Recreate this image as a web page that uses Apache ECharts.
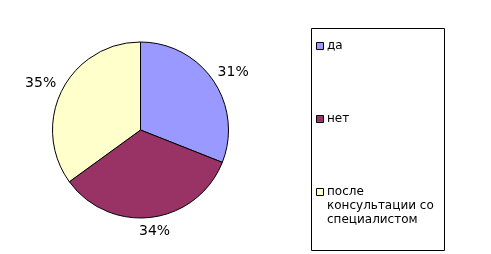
<!DOCTYPE html>
<html><head><meta charset="utf-8">
<script src="https://cdn.jsdelivr.net/npm/echarts@6/dist/echarts.min.js"></script>
<style>html,body{margin:0;padding:0;background:#fff}#c{width:491px;height:254px}</style>
</head><body><div id="c"></div>
<script>
const categories = ['да', 'нет', 'после консультации со специалистом'];
const values = [31, 34, 35];
const colors = ['#9999FF', '#993366', '#FFFFCC'];
const legendLines = [['да'], ['нет'], ['после', 'консультации со', 'специалистом']];

const font = 'DejaVu Sans';
const cx = 140.5, cy = 130, R = 88;
const total = values.reduce((a, b) => a + b, 0);
const midAngles = [];
let acc = 0;
values.forEach(v => { midAngles.push((acc + v / 2) / total * 2 * Math.PI); acc += v; });

const chart = echarts.init(document.getElementById('c'), null, {renderer: 'canvas'});

// legend drawn as graphic (icon aligned with first text line)
const legendY = [46, 119, 192];
const graphic = [{
  type: 'rect', left: 309, top: 26, silent: true,
  shape: {width: 133, height: 222},
  style: {fill: 'none', stroke: '#000', lineWidth: 1}
}];
categories.forEach((c, i) => {
  graphic.push({
    type: 'rect', silent: true,
    shape: {x: 316.5, y: legendY[i] - 3.5, width: 7, height: 7},
    style: {fill: colors[i], stroke: '#000', lineWidth: 1}
  });
  graphic.push({
    type: 'text', silent: true, x: 327, y: legendY[i] - 7,
    style: {text: legendLines[i].join('\n'), font: '12px "' + font + '"', fill: '#000',
            lineHeight: 14, verticalAlign: 'top'}
  });
});

chart.setOption({
  animation: false,
  backgroundColor: '#fff',
  graphic: graphic,
  series: [{
    type: 'pie',
    center: [cx, cy],
    radius: R,
    startAngle: 90,
    clockwise: true,
    data: categories.map((c, i) => ({name: c, value: values[i], itemStyle: {color: colors[i]}})),
    itemStyle: {borderColor: '#000', borderWidth: 1},
    label: {
      show: true, position: 'inside', formatter: '{d}%',
      fontFamily: font, fontSize: 14, color: '#000'
    },
    labelLine: {show: false},
    labelLayout: function (p) {
      const a = midAngles[p.dataIndex];
      const s = Math.sin(a), co = Math.cos(a);
      const gap = 8.5;
      const x = cx + s * (R + gap + p.labelRect.width / 2);
      const y = cy - co * (R + gap + 6);
      return {x: x, y: y, align: 'center', verticalAlign: 'middle'};
    },
    emphasis: {disabled: true},
    silent: true
  }]
});
</script></body></html>
